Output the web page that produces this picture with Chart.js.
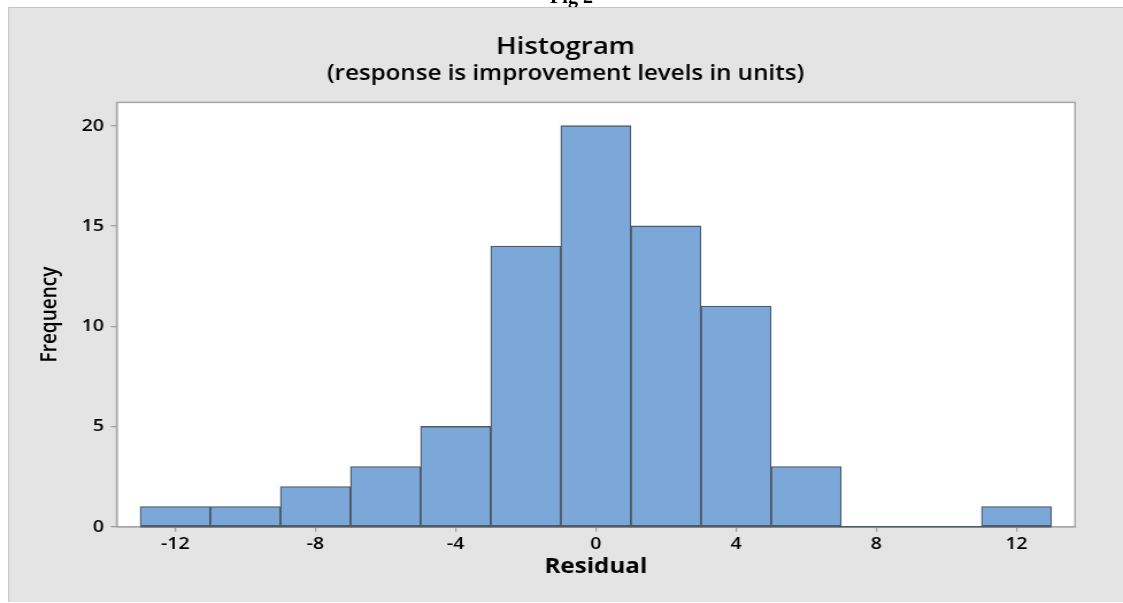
<!DOCTYPE html>
<html>
<head>
<meta charset="utf-8">
<script src="https://cdn.jsdelivr.net/npm/chart.js@4.4.1/dist/chart.umd.min.js"></script>
<style>
  body { margin: 0; background: #fff; }
  #wrap { position: absolute; left: 0; top: 0; width: 977px; height: 603px; transform: scaleX(1.1494); transform-origin: 0 0; }
  #fig { position: absolute; left: 0; top: 0; width: 1123px; height: 7px; overflow: hidden; }
  #fig div { position: absolute; left: 10px; top: -15px; width: 1123px; text-align: center; font: bold 20px 'Liberation Serif', serif; color: #000; }
</style>
</head>
<body>
<div id="wrap"><canvas id="histChart"></canvas></div>
<div id="fig"><div>Fig 2</div></div>
<script>
const binCenters = [-12, -10, -8, -6, -4, -2, 0, 2, 4, 6, 8, 10, 12];
const counts = [1, 1, 2, 3, 5, 14, 20, 15, 11, 3, 0, 0, 1];
const xTicks = [-12, -8, -4, 0, 4, 8, 12];
const yTicks = [0, 5, 10, 15, 20];

const FONT = "'Open Sans', 'Noto Sans', sans-serif";
const binWidth = binCenters[1] - binCenters[0];

// grey panel, white plot area and frame
const panelPlugin = {
  id: 'panel',
  beforeDraw(chart) {
    const { ctx, chartArea: a, width, height } = chart;
    ctx.save();
    ctx.fillStyle = '#fff';
    ctx.fillRect(0, 0, width, height);
    ctx.fillStyle = '#e4e4e4';
    ctx.fillRect(7, 7, width - 7, height - 8);
    ctx.strokeStyle = '#c4c4c4';
    ctx.lineWidth = 1;
    ctx.beginPath();
    ctx.moveTo(7, 7.5); ctx.lineTo(width, 7.5);
    ctx.moveTo(7.5, 7); ctx.lineTo(7.5, height - 1);
    ctx.stroke();
    ctx.fillStyle = '#fff';
    ctx.fillRect(a.left, a.top, a.right - a.left, a.bottom - a.top);
    ctx.strokeStyle = '#a8a8a8';
    ctx.lineWidth = 1.5;
    ctx.strokeRect(a.left, a.top, a.right - a.left, a.bottom - a.top);
    ctx.restore();
  },
  afterDatasetsDraw(chart) {
    // dark baseline under the bins (also where the count is 0)
    const { ctx, scales } = chart;
    const y0 = scales.y.getPixelForValue(0);
    const x1 = scales.x.getPixelForValue(binCenters[0] - binWidth / 2);
    const x2 = scales.x.getPixelForValue(binCenters[binCenters.length - 1] + binWidth / 2);
    ctx.save();
    ctx.strokeStyle = '#4f5a68';
    ctx.lineWidth = 1.5;
    ctx.beginPath();
    ctx.moveTo(x1, y0); ctx.lineTo(x2, y0);
    ctx.stroke();
    ctx.restore();
  }
};

const ctx = document.getElementById('histChart').getContext('2d');

const chart = new Chart(ctx, {
  type: 'bar',
  data: {
    datasets: [{
      data: binCenters.map((c, i) => ({ x: c, y: counts[i] })),
      backgroundColor: '#7ca7d9',
      borderColor: '#4f5a68',
      borderWidth: 1.3,
      borderSkipped: false,
      barPercentage: 1,
      categoryPercentage: 1,
    }],
  },
  options: {
    responsive: true,
    maintainAspectRatio: false,
    animation: false,
    layout: { padding: { left: 7, right: 0, top: 8, bottom: 0 } },
    plugins: {
      legend: { display: false },
      tooltip: { enabled: false },
      title: {
        display: true,
        text: 'Histogram',
        color: '#000',
        font: { family: FONT, size: 24, weight: '600' },
        padding: { top: 25, bottom: 0 },
      },
      subtitle: {
        display: true,
        text: '(response is improvement levels in units)',
        color: '#000',
        font: { family: FONT, size: 21, weight: '600' },
        padding: { top: 0, bottom: 15.4 },
      },
    },
    scales: {
      x: {
        type: 'linear',
        min: -13.67,
        max: 13.67,
        offset: false,
        grid: { display: true, offset: false, drawOnChartArea: false, drawTicks: true, tickLength: 5, color: '#a0a0a0', lineWidth: 1.3 },
        border: { display: true, color: '#a8a8a8', width: 1.5 },
        ticks: { color: '#000', font: { family: FONT, size: 17, weight: '600' }, padding: 2, maxRotation: 0 },
        afterBuildTicks: (s) => { s.ticks = xTicks.map((v) => ({ value: v })); },
        afterFit: (s) => { s.height = 76.3; },
        title: {
          display: true,
          text: 'Residual',
          color: '#000',
          font: { family: FONT, size: 21, weight: 'bold' },
          padding: { top: 0, bottom: 23 },
        },
      },
      y: {
        min: 0,
        max: 21.16,
        grid: { display: true, drawOnChartArea: false, drawTicks: true, tickLength: 5, color: '#a0a0a0', lineWidth: 1.3 },
        border: { display: true, color: '#a8a8a8', width: 1.5 },
        ticks: { color: '#000', font: { family: FONT, size: 17, weight: '600' }, padding: 6 },
        afterBuildTicks: (s) => { s.ticks = yTicks.map((v) => ({ value: v })); },
        afterFit: (s) => { s.width = 94.5; },
        title: {
          display: true,
          text: 'Frequency',
          color: '#000',
          font: { family: FONT, size: 19, weight: '600' },
          padding: { top: 25, bottom: 0 },
        },
      },
      // empty axis on the right, only to keep the plot area off the edge
      yRight: {
        position: 'right',
        display: true,
        grid: { display: false },
        border: { display: false },
        ticks: { display: false },
        afterFit: (s) => { s.width = 41.7; },
      },
    },
  },
  plugins: [panelPlugin],
});
</script>
</body>
</html>
